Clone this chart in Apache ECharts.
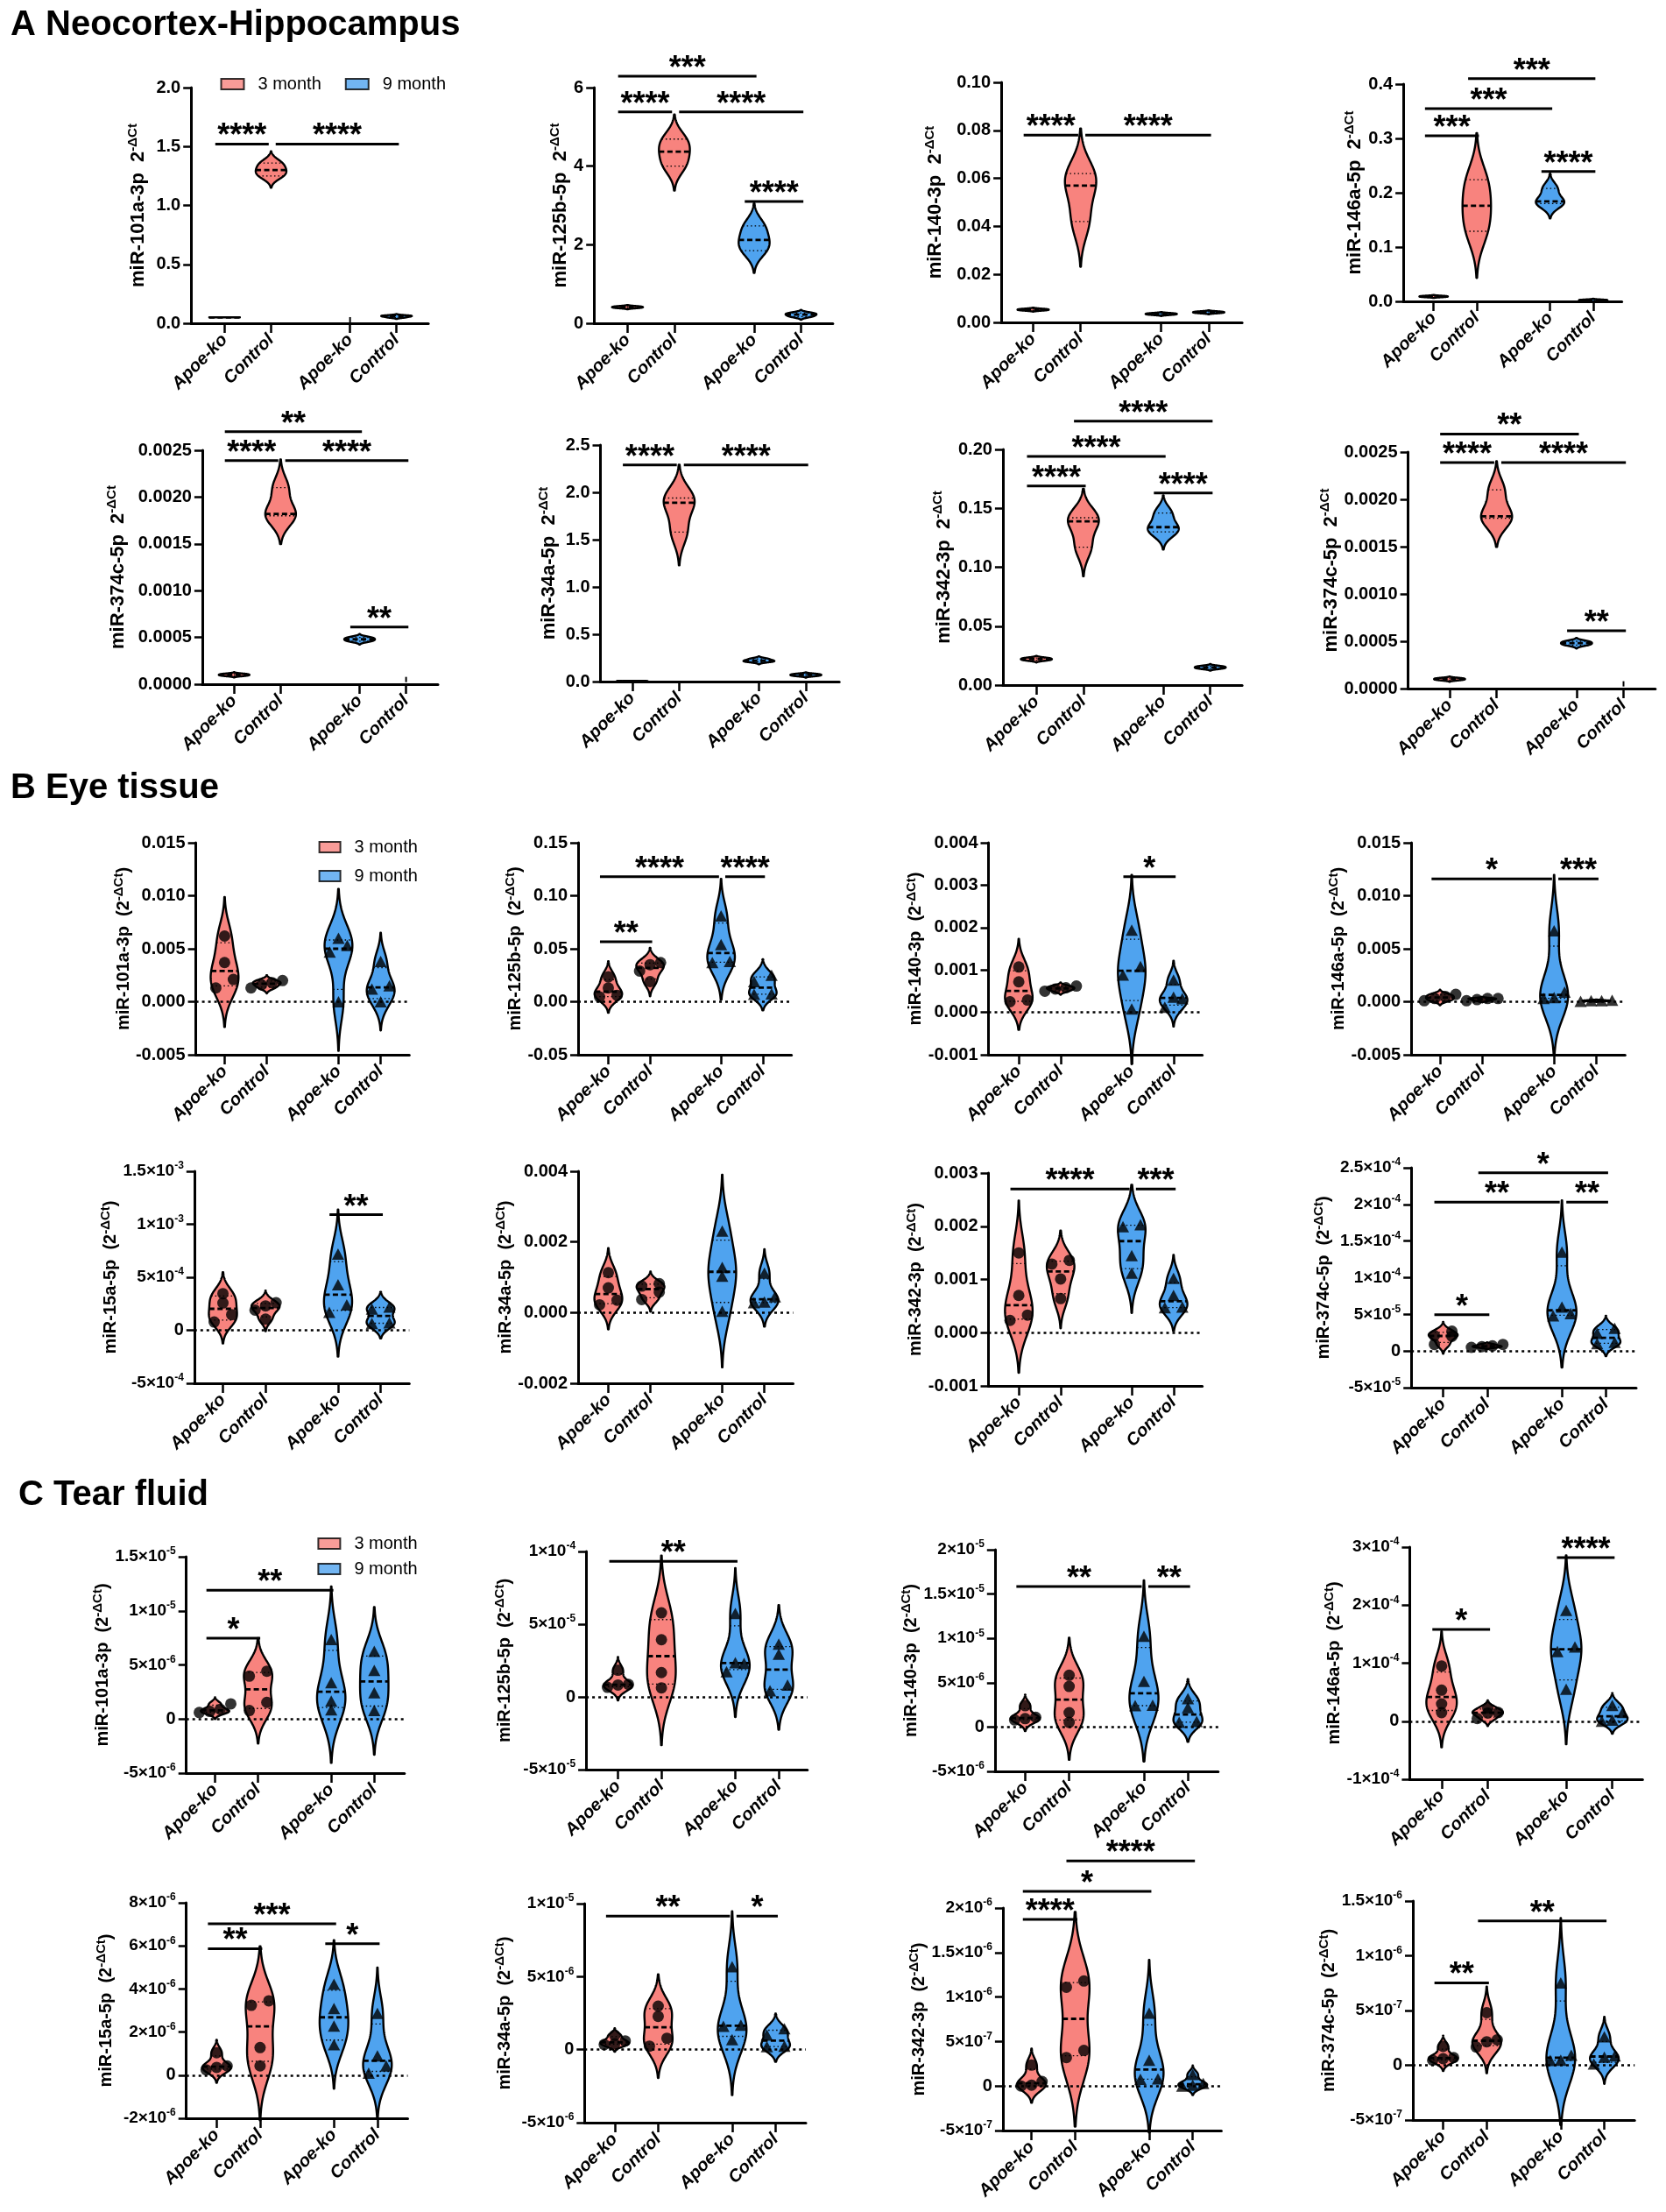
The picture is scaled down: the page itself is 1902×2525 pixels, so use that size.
<!DOCTYPE html>
<html>
<head>
<meta charset="utf-8">
<script src="https://cdn.jsdelivr.net/npm/echarts@6/dist/echarts.min.js"></script>
<style>
  html, body { margin: 0; padding: 0; background: #fff; overflow: hidden; }
  #chart { width: 1902px; height: 2525px; }
</style>
</head>
<body>
<div id="chart"></div>
<script>
const FONT = '"Liberation Sans", Arial, Helvetica, sans-serif';
const RED = "#F8837E";
const BLUE = "#4FA3EF";

const groupLabels = ["Apoe-ko", "Control", "Apoe-ko", "Control"];
const groupX = [1, 2, 3.7, 4.7];
const ageNames = ["3 month", "9 month"];
const sectionTitles = ["A Neocortex-Hippocampus", "B Eye tissue", "C Tear fluid"];

const neoMirs = ["miR-101a-3p", "miR-125b-5p", "miR-140-3p", "miR-146a-5p", "miR-374c-5p", "miR-34a-5p", "miR-342-3p", "miR-374c-5p"];
const eyeMirs = ["miR-101a-3p", "miR-125b-5p", "miR-140-3p", "miR-146a-5p", "miR-15a-5p", "miR-34a-5p", "miR-342-3p", "miR-374c-5p"];
const tearMirs = ["miR-101a-3p", "miR-125b-5p", "miR-140-3p", "miR-146a-5p", "miR-15a-5p", "miR-34a-5p", "miR-342-3p", "miR-374c-5p"];

// y axis [min, max, interval]
const neoAxes = [[0, 2, 0.5], [0, 6, 2], [0, 0.1, 0.02], [0, 0.4, 0.1], [0, 0.0025, 0.0005], [0, 2.5, 0.5], [0, 0.2, 0.05], [0, 0.0025, 0.0005]];
const eyeAxes = [[-0.005, 0.015, 0.005], [-0.05, 0.15, 0.05], [-0.001, 0.004, 0.001], [-0.005, 0.015, 0.005], [-5e-4, 1.5e-3, 5e-4], [-0.002, 0.004, 0.002], [-0.001, 0.003, 0.001], [-5e-5, 2.5e-4, 5e-5]];
const tearAxes = [[-5e-6, 1.5e-5, 5e-6], [-5e-5, 1e-4, 5e-5], [-5e-6, 2e-5, 5e-6], [-1e-4, 3e-4, 1e-4], [-2e-6, 8e-6, 2e-6], [-5e-6, 1e-5, 5e-6], [-5e-7, 2e-6, 5e-7], [-5e-7, 1.5e-6, 5e-7]];

// tick label format: decimals or "sci"
const neoDigits = [1, 0, 2, 1, 4, 1, 2, 4];
const eyeDigits = [3, 2, 3, 3, "sci", 3, 3, "sci"];
const tearDigits = ["sci", "sci", "sci", "sci", "sci", "sci", "sci", "sci"];

// values per panel: [3m Apoe-ko, 3m Control, 9m Apoe-ko, 9m Control]
const neoValues = [
  [[0.05, 0.05, 0.05], [1.25, 1.3, 1.36], [0.03, 0.03, 0.03], [0.05, 0.06, 0.065]],
  [[0.39, 0.41, 0.43], [4.0, 4.37, 4.69], [1.85, 2.12, 2.48], [0.17, 0.22, 0.26]],
  [[0.005, 0.0053, 0.0056], [0.042, 0.057, 0.062], [0.0032, 0.0035, 0.0038], [0.0039, 0.0042, 0.0045]],
  [[0.008, 0.009, 0.01], [0.129, 0.176, 0.224], [0.18, 0.184, 0.208], [0.001, 0.002, 0.003]],
  [[0.00009, 0.0001, 0.00011], [0.0018, 0.00182, 0.0021], [0.00046, 0.00048, 0.0005], [0.00005, 0.00005, 0.00005]],
  [[0.004, 0.005, 0.006], [1.58, 1.89, 1.94], [0.21, 0.22, 0.24], [0.06, 0.07, 0.08]],
  [[0.021, 0.022, 0.023], [0.117, 0.139, 0.142], [0.13, 0.134, 0.146], [0.014, 0.015, 0.016]],
  [[0.00009, 0.0001, 0.00011], [0.0018, 0.00182, 0.0021], [0.00046, 0.00048, 0.0005], [0.00005, 0.00005, 0.00005]]
];
const eyeValues = [
  [[0.0013, 0.0021, 0.0037, 0.0062], [0.0013, 0.0016, 0.0018, 0.002], [0.0, 0.0047, 0.0053, 0.006], [0.0, 0.0012, 0.0015, 0.0038]],
  [[0.0045, 0.006, 0.013, 0.0235], [0.019, 0.029, 0.035, 0.037], [0.037, 0.038, 0.054, 0.081], [0.007, 0.0075, 0.019, 0.025]],
  [[0.00025, 0.00029, 0.00072, 0.00107], [0.0005, 0.00055, 0.00058, 0.00062], [0.00008, 0.00088, 0.00108, 0.00194], [0.00012, 0.00032, 0.00036, 0.00076]],
  [[0.0001, 0.0003, 0.0005, 0.0007], [0.0001, 0.0002, 0.0003, 0.0003], [0.0003, 0.0004, 0.0009, 0.0067], [0.00005, 0.0001, 0.0001, 0.00015]],
  [[7.8e-5, 1.47e-4, 2.58e-4, 3.46e-4], [1.05e-4, 1.9e-4, 2.3e-4, 2.6e-4], [1.7e-4, 2.4e-4, 4.3e-4, 7.2e-4], [6.5e-5, 7e-5, 2.0e-4, 2.2e-4]],
  [[0.00022, 0.00035, 0.0007, 0.00113], [0.00037, 0.00058, 0.00075, 0.00082], [0.00004, 0.00103, 0.00128, 0.00231], [0.00028, 0.0003, 0.00045, 0.00112]],
  [[0.00023, 0.00033, 0.0007, 0.0015], [0.00064, 0.00101, 0.00129, 0.00136], [0.00112, 0.00145, 0.00199, 0.00203], [0.00047, 0.00048, 0.0007, 0.00102]],
  [[9e-6, 2e-5, 2.1e-5, 2.7e-5], [5e-6, 6e-6, 7e-6, 9e-6], [4.8e-5, 5.1e-5, 6.0e-5, 1.35e-4], [1.0e-5, 1.2e-5, 2.4e-5, 3.1e-5]]
];
const tearValues = [
  [[6e-7, 7e-7, 9e-7, 1.4e-6], [7.8e-7, 1.54e-6, 3.96e-6, 4.42e-6], [8.6e-7, 1.67e-6, 3.37e-6, 7.34e-6], [7.8e-7, 2.43e-6, 4.5e-6, 6.26e-6]],
  [[6.6e-6, 8.2e-6, 8.6e-6, 1.83e-5], [6.2e-6, 1.67e-5, 3.93e-5, 5.78e-5], [1.73e-5, 2.3e-5, 2.35e-5, 5.74e-5], [4.2e-6, 8.2e-6, 2.93e-5, 3.63e-5]],
  [[8e-7, 9.5e-7, 1.1e-6, 2.4e-6], [5.3e-7, 1.62e-6, 4.58e-6, 5.84e-6], [2.4e-6, 2.45e-6, 5.15e-6, 1.025e-5], [5.3e-7, 6.3e-7, 2.2e-6, 3.2e-6]],
  [[1.47e-5, 2.98e-5, 5.35e-5, 9.5e-5], [4.5e-6, 1.4e-5, 1.5e-5, 2.3e-5], [5.5e-5, 1.2e-4, 1.28e-4, 1.91e-4], [0, 2e-6, 1.5e-5, 2.7e-5]],
  [[2.5e-7, 3.6e-7, 4.3e-7, 1.04e-6], [4.3e-7, 1.28e-6, 3.24e-6, 3.45e-6], [1.41e-6, 2.28e-6, 3.09e-6, 4.22e-6], [9e-8, 4.3e-7, 9e-7, 2.87e-6]],
  [[3.5e-7, 4e-7, 6e-7, 9.8e-7], [2.4e-7, 7.8e-7, 2.28e-6, 2.98e-6], [6.8e-7, 1.6e-6, 1.68e-6, 5.68e-6], [2e-7, 2.4e-7, 1.0e-6, 1.44e-6]],
  [[0, 1e-8, 5e-8, 2.35e-7], [3.2e-7, 4e-7, 1.11e-6, 1.18e-6], [7.5e-8, 8e-8, 2.9e-7, 8.2e-7], [0, 1e-8, 3e-8, 1.3e-7]],
  [[4.6e-8, 6e-8, 7e-8, 1.72e-7], [1.67e-7, 2.15e-7, 2.33e-7, 4.8e-7], [4.5e-8, 4.7e-8, 9.2e-8, 7.53e-7], [1.2e-8, 7.4e-8, 8.6e-8, 2.6e-7]]
];

// significance bars: [from group, to group, y, label]
const neoSig = [
  [[0, 1, 1.52, "****"], [1, 3, 1.52, "****"]],
  [[0, 1, 5.38, "****"], [1, 3, 5.38, "****"], [0, 2, 6.29, "***"], [2, 3, 3.1, "****"]],
  [[0, 1, 0.078, "****"], [1, 3, 0.078, "****"]],
  [[0, 1, 0.305, "***"], [0, 2, 0.355, "***"], [1, 3, 0.41, "***"], [2, 3, 0.239, "****"]],
  [[0, 1, 0.00239, "****"], [1, 3, 0.00239, "****"], [0, 2, 0.0027, "**"], [2, 3, 0.00061, "**"]],
  [[0, 1, 2.29, "****"], [1, 3, 2.29, "****"]],
  [[0, 1, 0.169, "****"], [0, 2, 0.194, "****"], [1, 3, 0.224, "****"], [2, 3, 0.163, "****"]],
  [[0, 1, 0.00239, "****"], [1, 3, 0.00239, "****"], [0, 2, 0.00269, "**"], [2, 3, 0.00061, "**"]]
];
const eyeSig = [
  [],
  [[0, 1, 0.0566, "**"], [0, 2, 0.118, "****"], [2, 3, 0.118, "****"]],
  [[2, 3, 0.0032, "*"]],
  [[0, 2, 0.0116, "*"], [2, 3, 0.0116, "***"]],
  [[2, 3, 1.09e-3, "**"]],
  [],
  [[0, 2, 0.0027, "****"], [2, 3, 0.0027, "***"]],
  [[0, 1, 4.96e-5, "*"], [0, 2, 2.03e-4, "**"], [2, 3, 2.03e-4, "**"], [1, 3, 2.43e-4, "*"]]
];
const tearSig = [
  [[0, 1, 7.47e-6, "*"], [0, 2, 1.19e-5, "**"]],
  [[0, 2, 9.32e-5, "**"]],
  [[0, 2, 1.585e-5, "**"], [2, 3, 1.585e-5, "**"]],
  [[0, 1, 1.58e-4, "*"], [2, 3, 2.82e-4, "****"]],
  [[0, 1, 5.87e-6, "**"], [0, 2, 7.02e-6, "***"], [2, 3, 6.1e-6, "*"]],
  [[0, 2, 9.14e-6, "**"], [2, 3, 9.14e-6, "*"]],
  [[0, 1, 1.872e-6, "****"], [0, 2, 2.187e-6, "*"], [1, 3, 2.53e-6, "****"]],
  [[0, 1, 7.53e-7, "**"], [1, 3, 1.318e-6, "**"]]
];

// layout, page pixels: [y axis x, first group x, last group x, x axis end, top, bottom]
const boxes = [
  [218.2, 256.4, 452.7, 489.1, 100, 369], [678.2, 716.4, 914.5, 950.9, 100, 369],
  [1143.1, 1179.5, 1379.9, 1418.1, 94, 368], [1602.1, 1636.7, 1818.9, 1851.6, 96, 344],
  [230.9, 267.3, 463.6, 500.0, 514, 781], [685.5, 721.8, 920.0, 958.2, 508, 778],
  [1144.9, 1183.2, 1381.7, 1418.1, 513, 782], [1607.6, 1654.9, 1853.5, 1889.9, 516, 786],
  [223.6, 256.4, 434.6, 467.3, 962, 1204], [660.0, 694.5, 870.9, 903.6, 962, 1204],
  [1128.5, 1163.1, 1339.8, 1372.6, 962, 1204], [1611.2, 1644.0, 1822.5, 1855.3, 962, 1204],
  [221.8, 254.5, 434.6, 467.3, 1337, 1579], [660.0, 694.5, 872.7, 905.5, 1337, 1579],
  [1128.5, 1163.1, 1339.8, 1372.6, 1339, 1582], [1611.2, 1647.6, 1833.4, 1868.0, 1333, 1584],
  [212.7, 245.5, 427.3, 461.8, 1777, 2024], [669.1, 705.5, 889.1, 921.8, 1771, 2020],
  [1135.8, 1170.4, 1356.2, 1390.8, 1769, 2022], [1609.4, 1645.8, 1840.7, 1875.3, 1766, 2031],
  [212.7, 247.3, 430.9, 465.5, 2172, 2418], [667.3, 701.8, 885.5, 920.0, 2173, 2423],
  [1144.9, 1177.7, 1361.7, 1394.4, 2178, 2432], [1613.0, 1647.6, 1831.6, 1866.2, 2170, 2420]
];
// centre of each y axis title, page pixels
const nameX = [
  158.2, 641.8, 1068.4, 1549.3, 134.5, 627.3, 1077.5, 1525.6,
  141.8, 590.9, 1050.2, 1532.9, 140.0, 581.8, 1050.2, 1511.0,
  121.8, 576.4, 1050.2, 1523.8, 121.8, 576.4, 1061.1, 1522.0
];

const HALF = 0.33; // violin half width in group units

function quant(s, p) {
  const n = s.length;
  let r = p * (n + 1);
  if (r < 1) r = 1;
  if (r > n) r = n;
  const i = Math.floor(r);
  if (i >= n) return s[n - 1];
  return s[i - 1] + (r - i) * (s[i] - s[i - 1]);
}

function violinShape(vals) {
  const s = vals.slice().sort((a, b) => a - b);
  const n = s.length;
  const mean = s.reduce((a, b) => a + b, 0) / n;
  const sd = Math.sqrt(s.reduce((a, b) => a + (b - mean) * (b - mean), 0) / (n - 1));
  const q1 = quant(s, 0.25), med = quant(s, 0.5), q3 = quant(s, 0.75);
  if (!(sd > 0)) return { med, q1, q3, ys: null };
  let spread = Math.min(sd, (q3 - q1) / 1.34);
  if (!(spread > 0)) spread = sd;
  const h = 0.9 * spread * Math.pow(n, -0.2);
  const lo = s[0] - 2.5 * h, hi = s[n - 1] + 2.5 * h;
  const ys = [], ws = [];
  let maxD = 0;
  for (let i = 0; i <= 100; i++) {
    const y = lo + (hi - lo) * i / 100;
    let d = 0;
    s.forEach((v) => { d += Math.exp(-0.5 * ((y - v) / h) ** 2); });
    ys.push(y); ws.push(d);
    if (d > maxD) maxD = d;
  }
  for (let i = 0; i < ws.length; i++) ws[i] /= maxD;
  const widthAt = (y) => {
    if (y <= lo || y >= hi) return 0;
    const t = (y - lo) / (hi - lo) * 100;
    const i = Math.floor(t);
    return ws[i] + (t - i) * ((ws[i + 1] || 0) - ws[i]);
  };
  return { med, q1, q3, ys, ws, widthAt };
}

function drawViolin(shape, x, g, api) {
  if (!shape.ys) {
    const c = api.coord([x, shape.med]);
    return { type: "line", shape: { x1: c[0], y1: c[1] - 3, x2: c[0], y2: c[1] + 3 }, style: { stroke: "#000", lineWidth: 2 } };
  }
  const left = [], right = [];
  shape.ys.forEach((y, i) => {
    left.push(api.coord([x - shape.ws[i] * HALF, y]));
    right.push(api.coord([x + shape.ws[i] * HALF, y]));
  });
  const children = [{
    type: "polygon",
    shape: { points: left.concat(right.reverse()) },
    style: { fill: g < 2 ? RED : BLUE, stroke: "#000", lineWidth: 2.4, lineJoin: "round" }
  }];
  const seg = (y, dash, w) => {
    const hw = shape.widthAt(y) * HALF;
    const a = api.coord([x - hw, y]), b = api.coord([x + hw, y]);
    children.push({ type: "line", shape: { x1: a[0], y1: a[1], x2: b[0], y2: b[1] }, style: { stroke: "#000", lineWidth: w, lineDash: dash } });
  };
  seg(shape.q1, [1.5, 3], 1.3);
  seg(shape.q3, [1.5, 3], 1.3);
  seg(shape.med, [6, 3.5], 2.8);
  return { type: "group", children };
}

// spread points that would sit on top of each other
function swarm(vals, pxPerUnit) {
  const order = vals.map((v, i) => [v, i]).sort((a, b) => a[0] - b[0]);
  const offs = vals.map(() => 0);
  let row = [], start = 0;
  const flush = () => {
    const d = row.length > 2 ? 12 : 20;
    row.forEach((i, j) => { offs[i] = (j - (row.length - 1) / 2) * d; });
    row = [];
  };
  order.forEach(([v, i]) => {
    if (row.length && (v - start) * pxPerUnit > 10) flush();
    if (!row.length) start = v;
    row.push(i);
  });
  flush();
  return offs;
}

function tickFormatter(d, step) {
  return (v) => {
    if (Math.abs(v) < step * 1e-6) v = 0;
    if (d === "sci") {
      if (v === 0) return "0";
      const e = Math.floor(Math.log10(Math.abs(v)) + 1e-9);
      const m = +(v / Math.pow(10, e)).toFixed(1);
      return "{m|" + m + "×10}{e|" + e + "}";
    }
    return v.toFixed(d);
  };
}

function bracketEnds(b, list) {
  const same = list.filter((o) => o !== b && Math.abs(o[2] - b[2]) < Math.abs(b[2]) * 0.01);
  const x0 = same.some((o) => o[1] === b[0]) ? groupX[b[0]] + 0.1 : groupX[b[0]] - 0.2;
  const x1 = same.some((o) => o[0] === b[1]) ? groupX[b[1]] - 0.05 : groupX[b[1]] + 0.05;
  return [x0, x1];
}

const sections = [
  { mirs: neoMirs, axes: neoAxes, digits: neoDigits, values: neoValues, sig: neoSig, points: false, paren: false },
  { mirs: eyeMirs, axes: eyeAxes, digits: eyeDigits, values: eyeValues, sig: eyeSig, points: true, paren: true },
  { mirs: tearMirs, axes: tearAxes, digits: tearDigits, values: tearValues, sig: tearSig, points: true, paren: true }
];

const grid = [], xAxis = [], yAxis = [], series = [];

sections.forEach((sec, si) => {
  sec.mirs.forEach((mir, p) => {
    const k = si * 8 + p;
    const box = boxes[k];
    const [ymin, ymax, step] = sec.axes[p];
    const unit = (box[2] - box[1]) / 3.7;
    const nameSize = si === 0 ? 22 : 20;
    const nameLine = nameSize + 6;

    grid.push({ left: box[0], top: box[4], width: box[3] - box[0], height: box[5] - box[4] });

    xAxis.push({
      gridIndex: k, type: "value",
      min: 1 - (box[1] - box[0]) / unit, max: 4.7 + (box[3] - box[2]) / unit,
      splitLine: { show: false },
      axisLine: { onZero: false, lineStyle: { color: "#000", width: 3 } },
      axisTick: { customValues: groupX, length: 11, lineStyle: { color: "#000", width: 2.5 } },
      axisLabel: {
        customValues: groupX, rotate: 45, margin: 16,
        formatter: (v) => groupLabels[groupX.findIndex((g) => Math.abs(g - v) < 0.01)] || "",
        fontSize: 20, fontWeight: "bold", fontStyle: "italic", color: "#000", fontFamily: FONT
      }
    });

    const name = sec.paren ? "{n|" + mir + "  (2}{s|-ΔCt}{n|)}" : "{n|" + mir + "  2}{s|-ΔCt}";
    yAxis.push({
      gridIndex: k, type: "value", min: ymin, max: ymax, interval: step,
      splitLine: { show: false },
      axisLine: { show: true, onZero: false, lineStyle: { color: "#000", width: 3 } },
      axisTick: { show: true, length: 9, lineStyle: { color: "#000", width: 2.5 } },
      axisLabel: {
        formatter: tickFormatter(sec.digits[p], step), margin: 12,
        fontSize: 20, fontWeight: "bold", color: "#000", fontFamily: FONT,
        rich: {
          m: { fontSize: 19, fontWeight: "bold", color: "#000", fontFamily: FONT, lineHeight: 24 },
          e: { fontSize: 12, fontWeight: "bold", color: "#000", fontFamily: FONT, verticalAlign: "top", lineHeight: 13 }
        }
      },
      name, nameLocation: "middle", nameRotate: 90,
      nameGap: box[0] - nameX[k] - nameLine / 2,
      nameTextStyle: {
        rich: {
          n: { fontSize: nameSize, fontWeight: "bold", color: "#000", fontFamily: FONT, lineHeight: nameLine },
          s: { fontSize: 15, fontWeight: "bold", color: "#000", fontFamily: FONT, verticalAlign: "top", lineHeight: 15 }
        }
      }
    });

    const shapes = sec.values[p].map(violinShape);
    series.push({
      type: "custom", xAxisIndex: k, yAxisIndex: k, z: 2, silent: true, clip: false,
      data: groupX.map((x, g) => [x, shapes[g].med]),
      encode: { x: 0, y: 1 },
      renderItem: (params, api) => drawViolin(shapes[params.dataIndex], groupX[params.dataIndex], params.dataIndex, api)
    });

    if (sec.points) {
      const pxPerUnit = (box[5] - box[4]) / (ymax - ymin);
      const pts = [];
      sec.values[p].forEach((vals, g) => {
        const offs = swarm(vals, pxPerUnit);
        vals.forEach((v, i) => {
          pts.push({
            value: [groupX[g], v],
            symbol: g < 2 ? "circle" : "triangle",
            symbolSize: g < 2 ? 13 : [14, 13],
            symbolOffset: [offs[i], 0]
          });
        });
      });
      series.push({
        type: "scatter", xAxisIndex: k, yAxisIndex: k, z: 3, silent: true,
        data: pts, itemStyle: { color: "#000" },
        markLine: {
          silent: true, symbol: ["none", "none"], label: { show: false },
          lineStyle: { color: "#000", type: [3, 4], width: 2.5 },
          data: [{ yAxis: 0 }]
        }
      });
    }

    const sig = sec.sig[p];
    if (sig.length) {
      series.push({
        type: "custom", xAxisIndex: k, yAxisIndex: k, z: 4, silent: true, clip: false,
        data: sig.map((b) => [groupX[b[0]], b[2]]),
        encode: { x: 0, y: 1 },
        renderItem: (params, api) => {
          const b = sig[params.dataIndex];
          const [x0, x1] = bracketEnds(b, sig);
          const a = api.coord([x0, b[2]]), c = api.coord([x1, b[2]]);
          return {
            type: "group",
            children: [
              { type: "line", shape: { x1: a[0], y1: a[1], x2: c[0], y2: c[1] }, style: { stroke: "#000", lineWidth: 3 } },
              {
                type: "text", x: (a[0] + c[0]) / 2, y: a[1] - 8,
                style: { text: b[3], fill: "#000", fontSize: 36, fontWeight: "bold", fontFamily: FONT, align: "center", verticalAlign: "middle" }
              }
            ]
          };
        }
      });
    }
  });
});

// legend entries
ageNames.forEach((n, i) => {
  series.push({ type: "scatter", name: n, data: [], xAxisIndex: 0, yAxisIndex: 0, itemStyle: { color: i ? BLUE : RED } });
});

const legendBase = {
  padding: 0, selectedMode: false, icon: "rect", itemHeight: 12,
  textStyle: { fontSize: 20, color: "#000", fontFamily: FONT, padding: [0, 0, 0, 11] },
  data: ageNames.map((n, i) => ({ name: n, itemStyle: { color: i ? BLUE : RED, borderColor: "#000", borderWidth: 2 } }))
};

const chart = echarts.init(document.getElementById("chart"));
chart.setOption({
  animation: false,
  backgroundColor: "#fff",
  textStyle: { fontFamily: FONT },
  title: sectionTitles.map((t, i) => ({
    text: t, left: [12, 12, 21][i], top: [9, 880, 1687][i], padding: 0,
    textStyle: { fontSize: 40, fontWeight: "bold", color: "#000", fontFamily: FONT }
  })),
  legend: [
    Object.assign({}, legendBase, { left: 251.5, top: 86, orient: "horizontal", itemWidth: 26, itemGap: 27 }),
    Object.assign({}, legendBase, { left: 363.6, top: 957, orient: "vertical", itemWidth: 24, itemGap: 13 }),
    Object.assign({}, legendBase, { left: 362.4, top: 1752, orient: "vertical", itemWidth: 25, itemGap: 9 })
  ],
  grid, xAxis, yAxis, series
});
</script>
</body>
</html>
